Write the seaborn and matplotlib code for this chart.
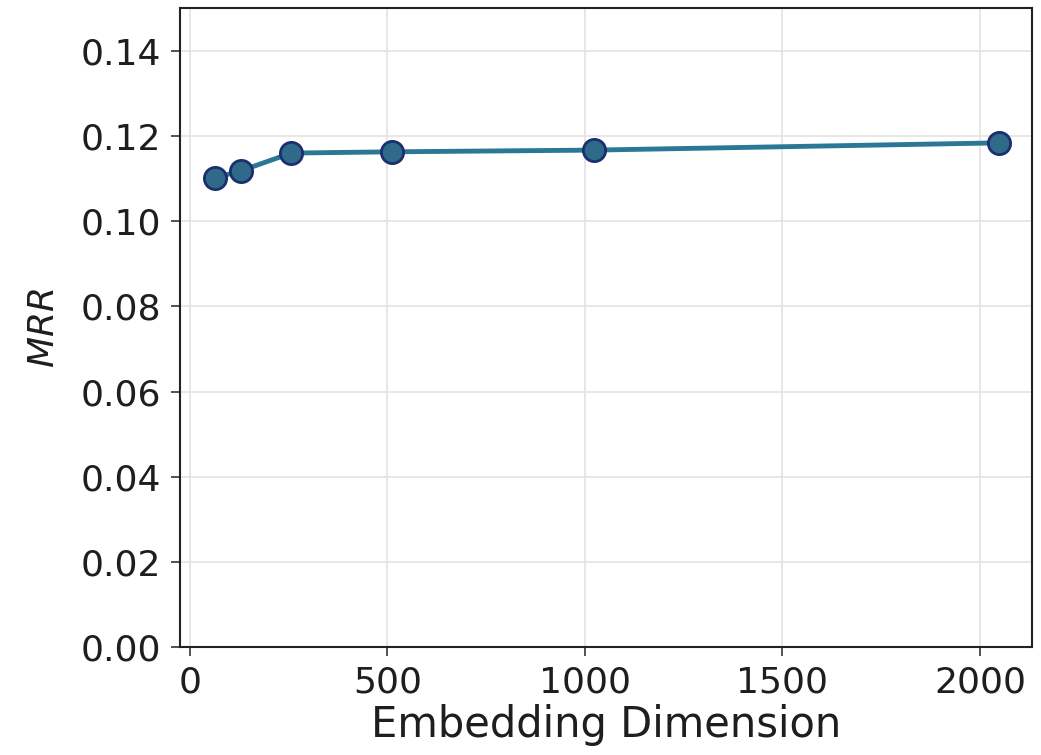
import matplotlib
matplotlib.use("Agg")
import matplotlib.pyplot as plt
import seaborn as sns
import pandas as pd

# values
embedding_dims = [64, 128, 256, 512, 1024, 2048]
mrr_values = [0.1102, 0.1118, 0.1160, 0.1163, 0.1167, 0.1184]

sns.set_theme(style="whitegrid")
plt.rcParams["font.family"] = ["DejaVu Sans"]

df = pd.DataFrame({"dim": embedding_dims, "mrr": mrr_values})

fig, ax = plt.subplots(figsize=(10.41, 7.55), dpi=100)
fig.subplots_adjust(left=0.173, right=0.991, top=0.989, bottom=0.143)

sns.lineplot(data=df, x="dim", y="mrr", ax=ax, color="#2b7896", linewidth=3.5,
             marker="o", markersize=16, markerfacecolor="#2f6a8a",
             markeredgecolor="#1b2f6e", markeredgewidth=2)

ax.set_xlim(-25, 2131)
ax.set_ylim(0, 0.15)
ax.set_yticks([0.0, 0.02, 0.04, 0.06, 0.08, 0.10, 0.12, 0.14])
ax.set_xticks([0, 500, 1000, 1500, 2000])
ax.set_xlabel("Embedding Dimension", fontsize=30, color="#1e1e1e", labelpad=3)
ax.set_ylabel("$MRR$", fontsize=26, color="#1e1e1e", labelpad=14)
ax.tick_params(labelsize=26, length=6.5, width=1.2, pad=7, color="#333333",
               labelcolor="#1e1e1e", bottom=True, left=True)
ax.grid(True, color="#e3e3e3", linewidth=1.2)
for s in ax.spines.values():
    s.set_visible(True)
    s.set_color("#222222")
    s.set_linewidth(1.5)

fig.savefig("out.png", dpi=100, facecolor="white")
